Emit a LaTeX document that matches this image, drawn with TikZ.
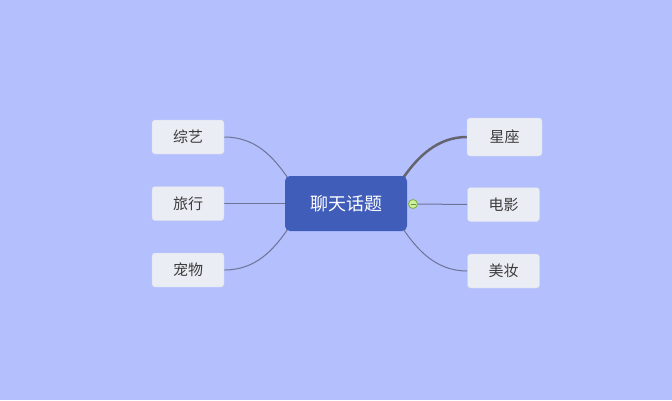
\documentclass[tikz,border=0pt]{standalone}
\usepackage{fontspec}
\newfontfamily\cjk{Noto Sans CJK SC}
\usetikzlibrary{calc}
\pgfdeclarelayer{bg}
\pgfdeclarelayer{edges}
\pgfsetlayers{bg,edges,main}
\definecolor{bgc}{RGB}{180,191,254}
\definecolor{centerc}{RGB}{64,93,186}
\definecolor{leafc}{RGB}{235,237,245}
\definecolor{leafb}{RGB}{214,218,235}
\definecolor{linec}{RGB}{110,116,150}
\definecolor{thickc}{RGB}{100,100,110}
\definecolor{txtc}{RGB}{60,60,60}
\definecolor{tgdraw}{RGB}{120,175,60}
\definecolor{tgfill}{RGB}{205,240,150}
\definecolor{tgdash}{RGB}{110,140,80}
\tikzset{
  leaf/.style={draw=leafb, fill=leafc, rounded corners=3pt, minimum width=72pt, minimum height=34pt,
    inner sep=0pt, text=txtc, font=\cjk\fontsize{15}{15}\selectfont},
  root/.style={fill=centerc, rounded corners=5pt, minimum width=122pt, minimum height=55pt,
    inner sep=0pt, text=white, font=\cjk\fontsize{18}{18}\selectfont},
  conn/.style={draw=linec, line width=1pt},
  thickconn/.style={draw=thickc, line width=2.5pt},
}
\begin{document}
\begin{tikzpicture}[x=1pt,y=-1pt]
\begin{pgfonlayer}{bg}
\fill[bgc] (0,0) rectangle (672,400);
\end{pgfonlayer}
\useasboundingbox (0,0) rectangle (672,400);
\node[root] (c) at (346,203.5) {聊天话题};
\node[leaf] (zy) at (188,137) {综艺};
\node[leaf] (lx) at (188,203.5) {旅行};
\node[leaf] (cw) at (188,270) {宠物};
\node[leaf, minimum width=75pt, minimum height=38pt] (xz) at (504.5,137) {星座};
\node[leaf] (dy) at (503.5,204.5) {电影};
\node[leaf] (mz) at (503.5,271) {美妆};
\node[circle, draw=tgdraw, fill=tgfill, minimum size=9pt, inner sep=0pt, line width=0.8pt] (tg) at (413,204) {};
\draw[tgdash, line width=0.8pt] ($(tg.center)+(-2.5,0)$) -- ($(tg.center)+(2.5,0)$);
\begin{pgfonlayer}{edges}
\draw[conn] (zy.east) .. controls +(32,0) and +(-14,-20) .. ($(c.north west)+(3,2)$);
\draw[conn] (lx.east) -- (c.west |- lx.east);
\draw[conn] (cw.east) .. controls +(32,0) and +(-14,20) .. ($(c.south west)+(3,-2)$);
\draw[thickconn] ($(c.north east)+(-4,2)$) .. controls +(14,-20) and +(-30,0) .. (xz.west);
\draw[conn] (tg.east) -- (dy.west);
\draw[conn] ($(c.south east)+(-4,-2)$) .. controls +(14,20) and +(-32,0) .. (mz.west);
\end{pgfonlayer}
\end{tikzpicture}
\end{document}
